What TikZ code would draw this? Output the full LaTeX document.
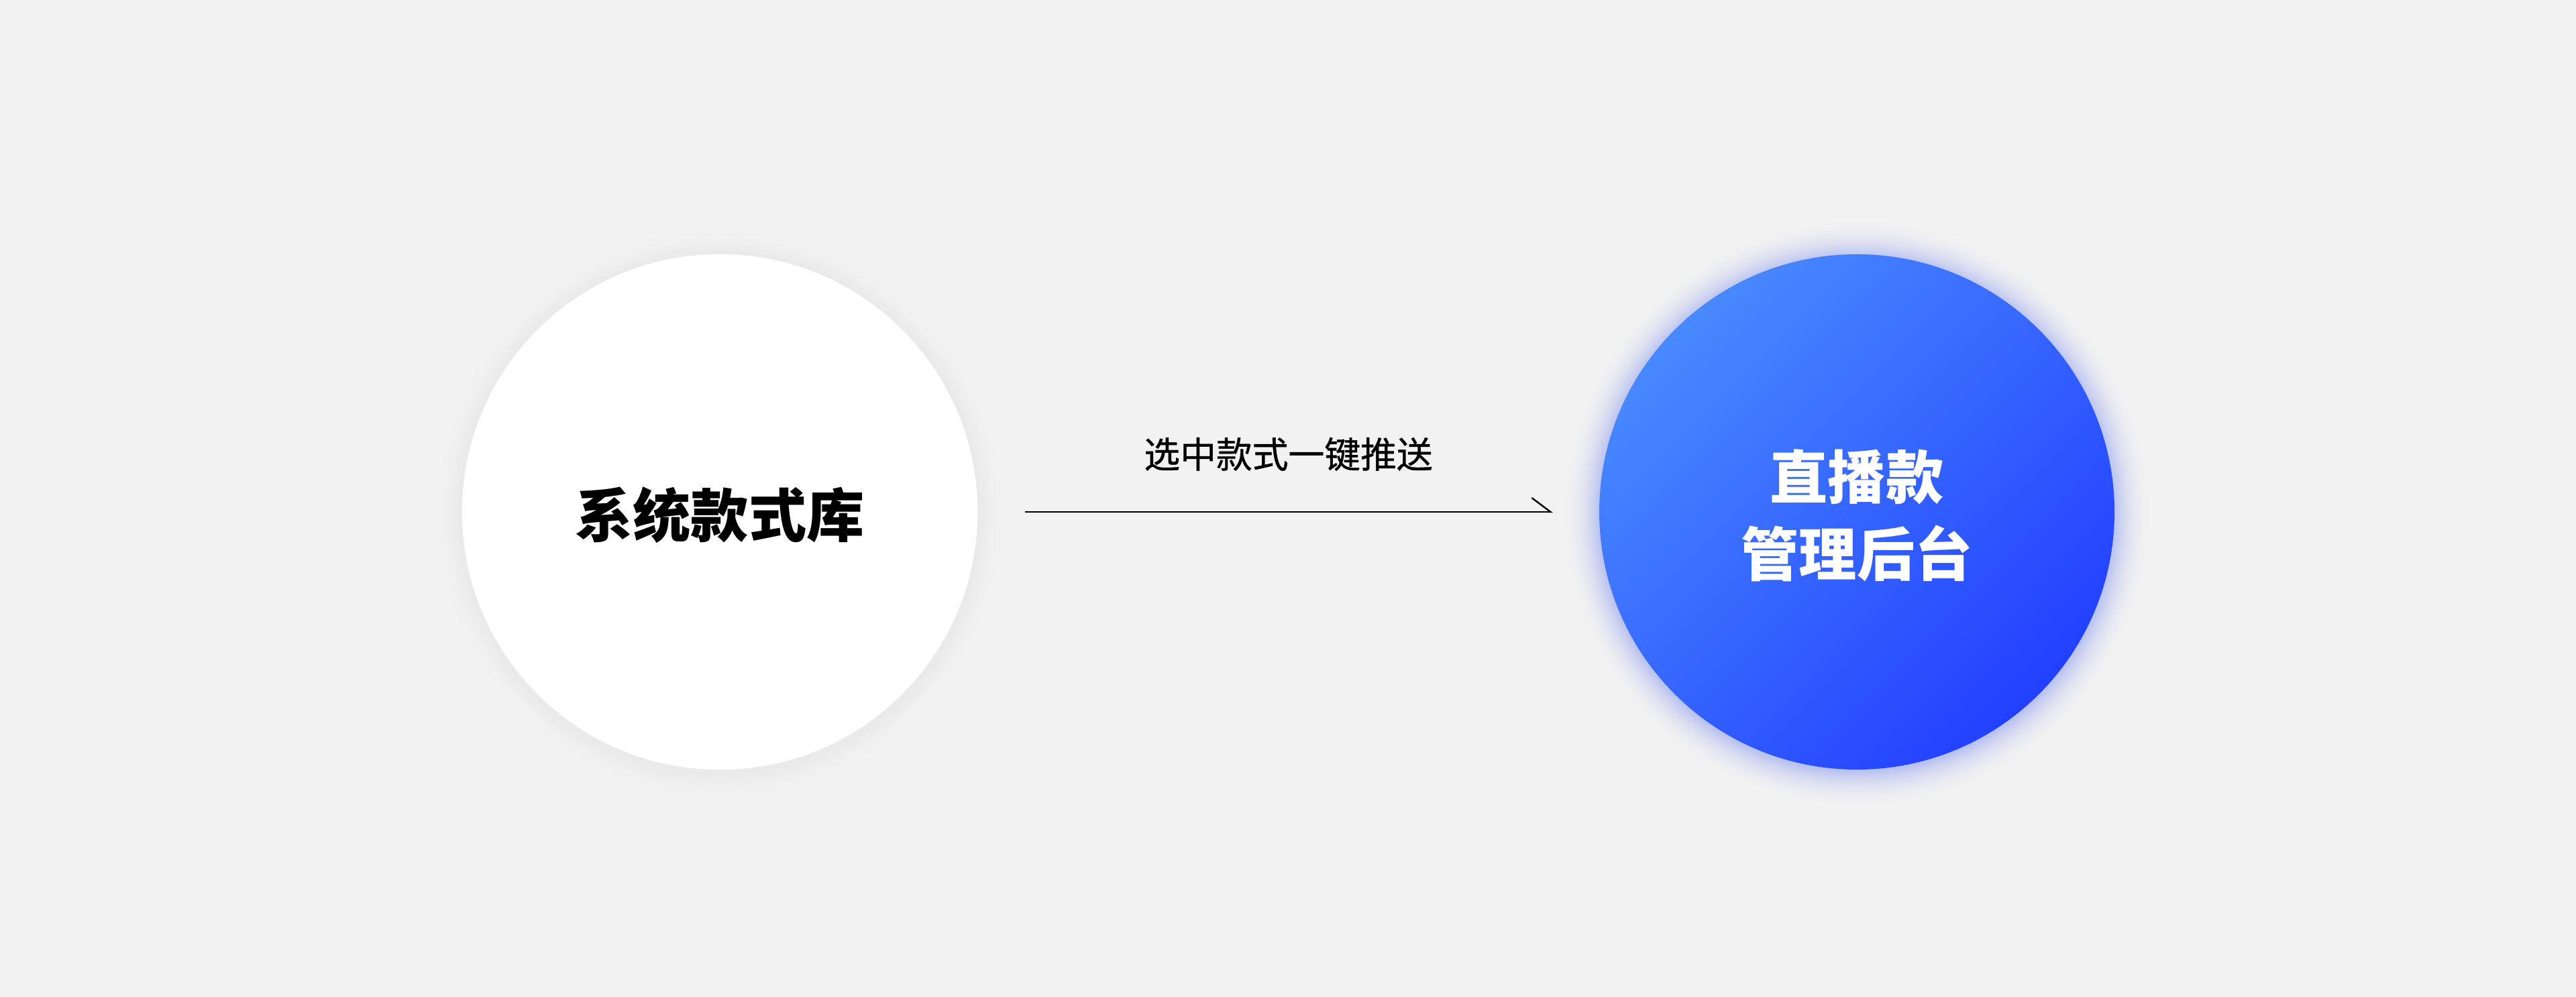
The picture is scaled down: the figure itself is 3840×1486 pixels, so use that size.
\documentclass[tikz,border=0pt]{standalone}
\usepackage{fontspec}
\newfontfamily\cjk{Noto Sans CJK SC}
\newfontfamily\cjkm{Noto Sans CJK SC}[FakeBold=0.8]
\usetikzlibrary{arrows.meta}
\definecolor{bg}{HTML}{F2F2F2}
\definecolor{blueA}{HTML}{4889FF}
\definecolor{blueB}{HTML}{2240FF}
\definecolor{glowc}{HTML}{B8C1F0}
\definecolor{softc}{HTML}{EAEAEA}
\tikzset{
  bigtext/.style={font=\cjk\bfseries\fontsize{24.5pt}{32.7pt}\selectfont, align=center},
  smalltext/.style={font=\cjkm\fontsize{15.3pt}{18pt}\selectfont, text=black},
  connector/.style={line width=0.7pt, -{Straight Barb[left, length=0.28cm, width=0.42cm]}},
  disc/.style={circle, minimum size=7.68cm, inner sep=0pt}
}
\begin{document}
\begin{tikzpicture}[x=0.01cm, y=-0.01cm]
\fill[bg] (0,0) rectangle (3840,1486);
\useasboundingbox (0,0) rectangle (3840,1486);
% left circle faint shadow
\foreach \i in {0,...,20}{
  \pgfmathsetmacro{\p}{100*(\i/20)^2}
  \fill[softc!\p!bg] (1073,766) circle ({430-2*\i});
}
\node[disc, fill=white] (lib) at (1073,763) {};
\node[bigtext, text=black] (libt) at (1073,768) {系统款式库};
% right circle glow
\foreach \i in {0,...,28}{
  \pgfmathsetmacro{\p}{100*(\i/28)^2}
  \fill[glowc!\p!bg] (2768,766) circle ({440-2*\i});
}
\shade[shading=axis, top color=blueA, bottom color=blueB, shading angle=45] (2768,763) circle (384);
\node[disc] (live) at (2768,763) {};
\node[bigtext, text=white] (livet) at (2768,768) {直播款\\管理后台};
% connector
\draw[connector, shorten <=70*0.01cm, shorten >=68*0.01cm] (lib.east) -- (live.west)
  node[midway, smalltext, yshift=0.86cm] (push) {选中款式一键推送};
\end{tikzpicture}
\end{document}
